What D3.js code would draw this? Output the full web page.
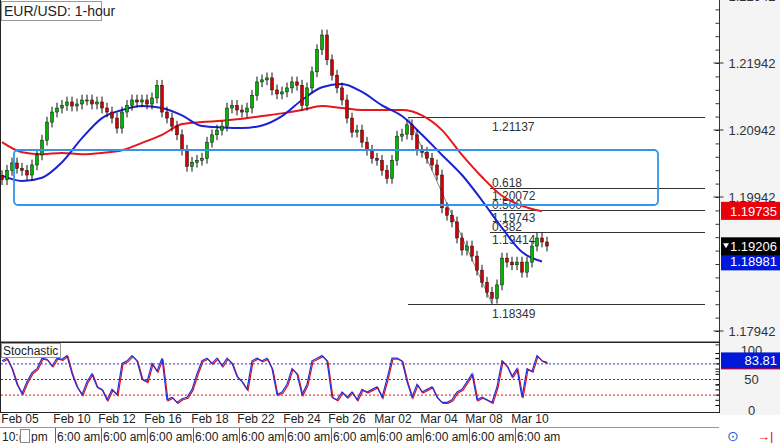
<!DOCTYPE html>
<html><head><meta charset="utf-8">
<script src="https://cdn.jsdelivr.net/npm/d3@7"></script>
<style>body{margin:0;background:#fff}svg{display:block;font-family:"Liberation Sans",Arial,sans-serif}</style>
</head><body><svg id="c" width="780" height="443"></svg>
<script>
const closes=[1.2020,1.2034,1.2045,1.2037,1.2034,1.2027,1.2042,1.2057,1.2079,1.2106,1.2121,1.2127,1.2131,1.2136,1.2130,1.2133,1.2139,1.2139,1.2133,1.2136,1.2127,1.2121,1.2112,1.2097,1.2121,1.2131,1.2139,1.2136,1.2139,1.2133,1.2142,1.2161,1.2121,1.2112,1.2100,1.2087,1.2064,1.2040,1.2046,1.2049,1.2052,1.2076,1.2087,1.2094,1.2100,1.2127,1.2131,1.2124,1.2121,1.2127,1.2146,1.2166,1.2169,1.2172,1.2154,1.2148,1.2151,1.2157,1.2166,1.2161,1.2131,1.2157,1.2181,1.2214,1.2236,1.2199,1.2176,1.2157,1.2139,1.2112,1.2091,1.2094,1.2076,1.2064,1.2052,1.2049,1.2034,1.2022,1.2049,1.2085,1.2088,1.2102,1.2087,1.2064,1.2061,1.2052,1.2042,1.2027,1.1978,1.1967,1.1957,1.1933,1.1915,1.1921,1.1906,1.1885,1.1867,1.1852,1.1843,1.1863,1.1903,1.1897,1.1893,1.1897,1.1882,1.1897,1.1921,1.1933,1.1927,1.1921];
const maFast=[1.2026,1.2018,1.2023,1.2046,1.2082,1.2112,1.2124,1.2130,1.2127,1.2116,1.2100,1.2098,1.2097,1.2101,1.2115,1.2139,1.2158,1.2163,1.2151,1.2131,1.2115,1.2087,1.2057,1.2027,1.1989,1.1948,1.1912,1.1898];
const maSlow=[1.2076,1.2061,1.2058,1.2060,1.2058,1.2060,1.2064,1.2075,1.2087,1.2103,1.2106,1.2108,1.2111,1.2115,1.2119,1.2124,1.2130,1.2127,1.2124,1.2124,1.2124,1.2116,1.2094,1.2057,1.2024,1.1996,1.1981,1.1973];
const stoch=[85,90,70,40,22,45,62,70,90,88,75,90,88,95,60,35,20,45,60,35,30,10,30,20,80,85,95,85,50,45,80,65,90,10,15,5,12,15,30,60,85,90,80,90,75,90,80,55,45,30,85,90,85,90,70,20,25,40,70,60,20,40,85,90,95,85,15,10,25,15,25,10,30,25,30,35,15,50,90,90,85,45,15,40,25,30,35,15,5,5,10,25,30,45,60,10,15,10,5,35,85,75,55,70,15,70,65,95,85,82];
const dateLabels=["Feb 05","Feb 10","Feb 12","Feb 16","Feb 18","Feb 22","Feb 24","Feb 26","Mar 02","Mar 04","Mar 08","Mar 10"];
const dateIdx=[3.6,14,23,32.2,41.6,50.8,60,69,78.2,87.4,96.4,105.6];
const priceTicks=[1.22942,1.21942,1.20942,1.19942,1.17942];
const fibLevels=[{r:"",v:1.21137},{r:"0.618",v:1.20072},{r:"0.500",v:1.19743},{r:"0.382",v:1.19414},{r:"",v:1.18349}];
const stochLevels=[80,50,20];

const svg=d3.select("#c");
const x=d3.scaleLinear().domain([0,110]).range([2,552]);
const y=d3.scaleLinear().domain([1.17942,1.21942]).range([331,63]);
const ys=d3.scaleLinear().domain([0,100]).range([405,353]);
const W=719;

svg.append("rect").attr("x",W).attr("y",0).attr("width",61).attr("height",415).attr("fill","#f4f4f4");
const main=svg.append("g");
main.append("defs").append("clipPath").attr("id","cp").append("rect").attr("width",W).attr("height",342);
const g=main.append("g").attr("clip-path","url(#cp)");

const fx0={1.21137:408,1.18349:408};
fibLevels.forEach(f=>{
  const yy=Math.round(y(f.v))+0.5;
  g.append("line").attr("x1",fx0[f.v]||490).attr("x2",705).attr("y1",yy).attr("y2",yy).attr("stroke","#333").attr("stroke-width",1);
  if(f.r){
    g.append("text").attr("x",492).attr("y",yy-2).attr("font-size",12).attr("fill","#333").text(f.r);
    g.append("text").attr("x",492).attr("y",yy+11).attr("font-size",12).attr("fill","#333").text(f.v.toFixed(5));
  } else g.append("text").attr("x",492).attr("y",yy+13).attr("font-size",12).attr("fill","#333").text(f.v.toFixed(5));
});
g.append("line").attr("x1",408).attr("y1",y(1.21137)).attr("x2",492).attr("y2",y(1.18349)).attr("stroke","#666").attr("stroke-width",0.8);

const line=d3.line().x((d,i)=>x(i*4)).y(d=>y(d)).curve(d3.curveMonotoneX);
g.append("path").attr("d",line(maSlow)).attr("fill","none").attr("stroke","#e8161b").attr("stroke-width",2);
g.append("path").attr("d",line(maFast)).attr("fill","none").attr("stroke","#1b22d0").attr("stroke-width",2);

closes.forEach((c,i)=>{
  const o=i?closes[i-1]:c+0.0006;
  const hi=Math.max(o,c)+0.0008, lo=Math.min(o,c)-0.0008;
  const xx=x(i);
  g.append("line").attr("x1",xx).attr("x2",xx).attr("y1",y(hi)).attr("y2",y(lo)).attr("stroke","#111");
  g.append("rect").attr("x",xx-1.5).attr("width",3).attr("y",y(Math.max(o,c))).attr("height",Math.max(1,Math.abs(y(o)-y(c))))
   .attr("fill",c>=o?"#00b400":"#d40000").attr("stroke","#111").attr("stroke-width",0.5);
});

g.append("rect").attr("x",14).attr("y",150).attr("width",644).attr("height",55).attr("rx",4).attr("fill","none").attr("stroke","#2e96ee").attr("stroke-width",1.8);

main.append("rect").attr("x",1.5).attr("y",1.5).attr("width",100).attr("height",19).attr("fill","#fff").attr("stroke","#999");
main.append("text").attr("x",4).attr("y",16).attr("font-size",14).attr("fill","#222").text("EUR/USD: 1-hour");

svg.append("rect").attr("x",0.5).attr("y",-1).attr("width",W).attr("height",343).attr("fill","none").attr("stroke","#222");
svg.append("rect").attr("x",0.5).attr("y",342.5).attr("width",W).attr("height",70).attr("fill","none").attr("stroke","#222");

const ax=svg.append("g").attr("transform",`translate(${W+0.5},0)`);
ax.call(d3.axisLeft(y).tickValues(d3.range(1.17142,1.2314,0.002)).tickSize(4).tickFormat(""));
ax.select(".domain").remove();
ax.selectAll(".tick line").attr("stroke","#333");
ax.append("line").attr("y1",0).attr("y2",342).attr("stroke","#333");
priceTicks.forEach(v=>{
  ax.append("line").attr("x1",-6).attr("x2",4).attr("y1",y(v)).attr("y2",y(v)).attr("stroke","#333");
  ax.append("text").attr("x",56).attr("y",y(v)+5).attr("text-anchor","end").attr("font-size",13).attr("fill","#333").text(v.toFixed(5));
});
function badge(v,fill,txt,arrow){
  const yy=y(v);
  svg.append("rect").attr("x",W+2).attr("y",yy-9).attr("width",61).attr("height",18).attr("fill",fill);
  svg.append("text").attr("x",777).attr("y",yy+5).attr("text-anchor","end").attr("font-size",13).attr("fill","#fff").text(txt);
  if(arrow) svg.append("path").attr("d",`M${W+4},${yy-3}h6l-3,5z`).attr("fill","#fff");
}
badge(1.19735,"#e8000b","1.19735");
badge(1.18981,"#0018d8","1.18981");
badge(1.19206,"#000","1.19206",true);

const sg=svg.append("g");
const lc={80:"#2430e0",50:"#444",20:"#e01010"};
stochLevels.forEach(l=>sg.append("line").attr("x1",1).attr("x2",W).attr("y1",ys(l)+0.5).attr("y2",ys(l)+0.5).attr("stroke",lc[l]).attr("stroke-dasharray","2,2"));
const sl=d3.line().x((d,i)=>x(i)).y(d=>ys(d));
sg.append("path").attr("d",sl(stoch)).attr("transform","translate(1,1)").attr("fill","none").attr("stroke","#e01010").attr("stroke-width",1.2);
sg.append("path").attr("d",sl(stoch)).attr("fill","none").attr("stroke","#2430e0").attr("stroke-width",1.2);
sg.append("rect").attr("x",1.5).attr("y",343.5).attr("width",59).attr("height",14).attr("fill","#fff").attr("stroke","#999");
sg.append("text").attr("x",3).attr("y",355).attr("font-size",12).attr("fill","#222").text("Stochastic");
const sax=svg.append("g").attr("transform",`translate(${W+0.5},0)`);
sax.call(d3.axisLeft(ys).tickValues(d3.range(0,101,10)).tickSize(4).tickFormat(""));
sax.select(".domain").remove();
sax.append("line").attr("y1",343).attr("y2",412).attr("stroke","#333");
[[100,351],[50,380],[0,411]].forEach(([t,yy])=>sax.append("text").attr("x",32).attr("y",yy+4).attr("text-anchor","middle").attr("font-size",13).attr("fill","#333").text(t));
svg.append("rect").attr("x",W+2).attr("y",ys(80)-3).attr("width",61).attr("height",9).attr("fill","#e8000b");
svg.append("rect").attr("x",W+2).attr("y",ys(83.81)-9).attr("width",61).attr("height",16).attr("fill","#0018d8");
svg.append("text").attr("x",777).attr("y",ys(83.81)+4).attr("text-anchor","end").attr("font-size",13).attr("fill","#fff").text("83.81");

dateLabels.forEach((d,i)=>svg.append("text").attr("x",x(dateIdx[i])).attr("y",423).attr("text-anchor","middle").attr("font-size",12).attr("fill","#222").text(d));
svg.append("line").attr("x1",0).attr("x2",W).attr("y1",427.5).attr("y2",427.5).attr("stroke","#999");
svg.append("text").attr("x",2).attr("y",441).attr("font-size",12).attr("fill","#222").text("10:(");
svg.append("rect").attr("x",20.5).attr("y",429.5).attr("width",9).attr("height",13).attr("fill","#fff").attr("stroke","#888");
svg.append("text").attr("x",31).attr("y",441).attr("font-size",12).attr("fill","#222").text("pm");
d3.range(11).forEach(i=>{
  const xx=55+i*46;
  svg.append("line").attr("x1",xx+0.5).attr("x2",xx+0.5).attr("y1",428).attr("y2",443).attr("stroke","#666");
  svg.append("text").attr("x",xx+2).attr("y",441).attr("font-size",12).attr("fill","#222").text("6:00 am");
});
svg.append("text").attr("x",727).attr("y",441).attr("font-size",14).attr("fill","#1b5fe0").text("⊙");
svg.append("text").attr("x",757).attr("y",441).attr("font-size",13).attr("fill","#e01010").text("→|");
</script></body></html>
